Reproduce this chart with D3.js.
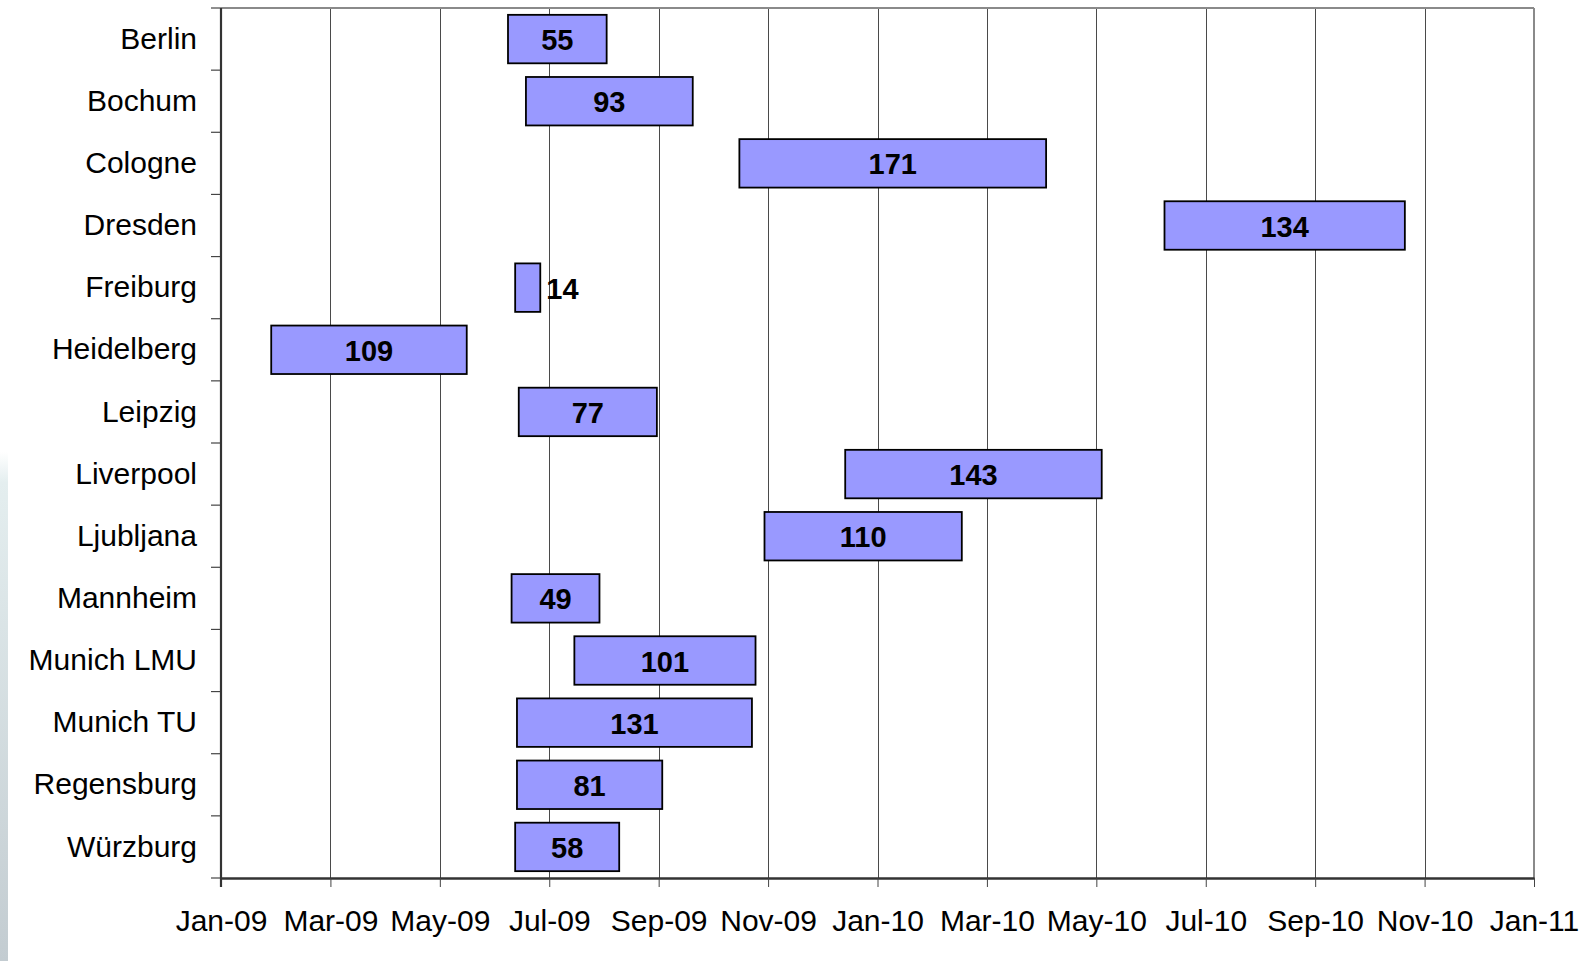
<!DOCTYPE html>
<html>
<head>
<meta charset="utf-8">
<script src="https://cdn.jsdelivr.net/npm/d3@7"></script>
<style>
  html, body { margin: 0; padding: 0; background: #fff; }
  svg { display: block; }
  text { font-family: "Liberation Sans", Arial, sans-serif; }
</style>
</head>
<body>
<script>
// ---- data ----
const categories = ["Berlin", "Bochum", "Cologne", "Dresden", "Freiburg", "Heidelberg", "Leipzig",
  "Liverpool", "Ljubljana", "Mannheim", "Munich LMU", "Munich TU", "Regensburg", "Würzburg"];
const startDates = ["2009-06-10", "2009-06-20", "2009-10-17", "2010-06-11", "2009-06-14", "2009-01-29",
  "2009-06-16", "2009-12-15", "2009-10-31", "2009-06-12", "2009-07-17", "2009-06-15", "2009-06-15", "2009-06-14"];
const durations = [55, 93, 171, 134, 14, 109, 77, 143, 110, 49, 101, 131, 81, 58];
const axisStart = "2009-01-01";
const tickStepDays = 61;
const tickCount = 13;

// ---- layout ----
const W = 1594, H = 961;
const m = { left: 221, right: 60, top: 8, bottom: 83 };
const DAY = 864e5;

const svg = d3.select("body").append("svg").attr("width", W).attr("height", H);

// faint left-edge strip
const defs = svg.append("defs");
const grad = defs.append("linearGradient").attr("id", "edge").attr("x1", 0).attr("y1", 0).attr("x2", 0).attr("y2", 1);
grad.append("stop").attr("offset", "0%").attr("stop-color", "#ffffff");
grad.append("stop").attr("offset", "6%").attr("stop-color", "#e4eeef");
grad.append("stop").attr("offset", "100%").attr("stop-color", "#c3ccd1");
svg.append("rect").attr("x", 0).attr("y", 452).attr("width", 8).attr("height", H - 452).attr("fill", "url(#edge)");

const t0 = new Date(axisStart + "T00:00:00Z");
const tickDates = d3.range(tickCount).map(k => new Date(+t0 + k * tickStepDays * DAY));

const x = d3.scaleUtc()
  .domain([t0, tickDates[tickDates.length - 1]])
  .range([m.left, W - m.right]);
const y = d3.scaleBand()
  .domain(categories)
  .range([m.top, H - m.bottom])
  .paddingInner(0.22).paddingOuter(0.11);

const x0 = m.left, x1 = W - m.right, y0 = m.top, y1 = H - m.bottom;

// gridlines
svg.append("g").selectAll("line").data(tickDates.slice(1, -1)).join("line")
  .attr("x1", d => Math.round(x(d)) + 0.5).attr("x2", d => Math.round(x(d)) + 0.5)
  .attr("y1", y0).attr("y2", y1)
  .attr("stroke", "#4a4a4a").attr("stroke-width", 1);

// top and right border
svg.append("line").attr("x1", x0).attr("x2", x1).attr("y1", y0).attr("y2", y0)
  .attr("stroke", "#8a8a8a").attr("stroke-width", 2);
svg.append("line").attr("x1", x1).attr("x2", x1).attr("y1", y0).attr("y2", y1)
  .attr("stroke", "#8a8a8a").attr("stroke-width", 2);

// x axis
const xAxis = d3.axisBottom(x).tickValues(tickDates).tickFormat(d3.utcFormat("%b-%y"))
  .tickSizeInner(9).tickSizeOuter(0).tickPadding(23);
const gx = svg.append("g").attr("transform", `translate(0,${y1})`).call(xAxis);
gx.select(".domain").attr("stroke", "#333").attr("stroke-width", 2.4);
gx.selectAll(".tick line").attr("stroke", "#444").attr("stroke-width", 1);
gx.selectAll(".tick text").attr("font-size", 30).attr("fill", "#000")
  .attr("font-family", "'Liberation Sans', Arial, sans-serif");

// y axis with ticks at band boundaries
const yAxis = d3.axisLeft(y).tickSize(0).tickPadding(24);
const gy = svg.append("g").attr("transform", `translate(${x0},0)`).call(yAxis);
gy.select(".domain").remove();
gy.selectAll(".tick text").attr("font-size", 30).attr("fill", "#000")
  .attr("font-family", "'Liberation Sans', Arial, sans-serif");
const bounds = d3.range(categories.length + 1).map(i => y0 + i * (y1 - y0) / categories.length);
svg.append("g").selectAll("line").data(bounds).join("line")
  .attr("x1", x0 - 10).attr("x2", x0).attr("y1", d => d).attr("y2", d => d)
  .attr("stroke", "#444").attr("stroke-width", 1.2);
svg.append("line").attr("x1", x0).attr("x2", x0).attr("y1", y0).attr("y2", y1 + 9)
  .attr("stroke", "#333").attr("stroke-width", 2.2);

// bars
const rows = categories.map((c, i) => {
  const s = new Date(startDates[i] + "T00:00:00Z");
  return { c, s, e: new Date(+s + durations[i] * DAY), v: durations[i] };
});
const bars = svg.append("g");
bars.selectAll("rect").data(rows).join("rect")
  .attr("x", d => x(d.s)).attr("width", d => x(d.e) - x(d.s))
  .attr("y", d => y(d.c)).attr("height", y.bandwidth())
  .attr("fill", "#9999ff").attr("stroke", "#000").attr("stroke-width", 1.8);

bars.selectAll("text").data(rows).join("text")
  .text(d => d.v)
  .attr("font-size", 29).attr("font-weight", "bold").attr("fill", "#000")
  .attr("dominant-baseline", "central")
  .attr("y", d => y(d.c) + y.bandwidth() / 2 + 1)
  .each(function (d) {
    const w = this.getComputedTextLength();
    const bw = x(d.e) - x(d.s);
    const t = d3.select(this);
    if (w + 6 > bw) {
      t.attr("x", x(d.e) + 6).attr("text-anchor", "start");
    } else {
      t.attr("x", (x(d.s) + x(d.e)) / 2).attr("text-anchor", "middle");
    }
  });
</script>
</body>
</html>
